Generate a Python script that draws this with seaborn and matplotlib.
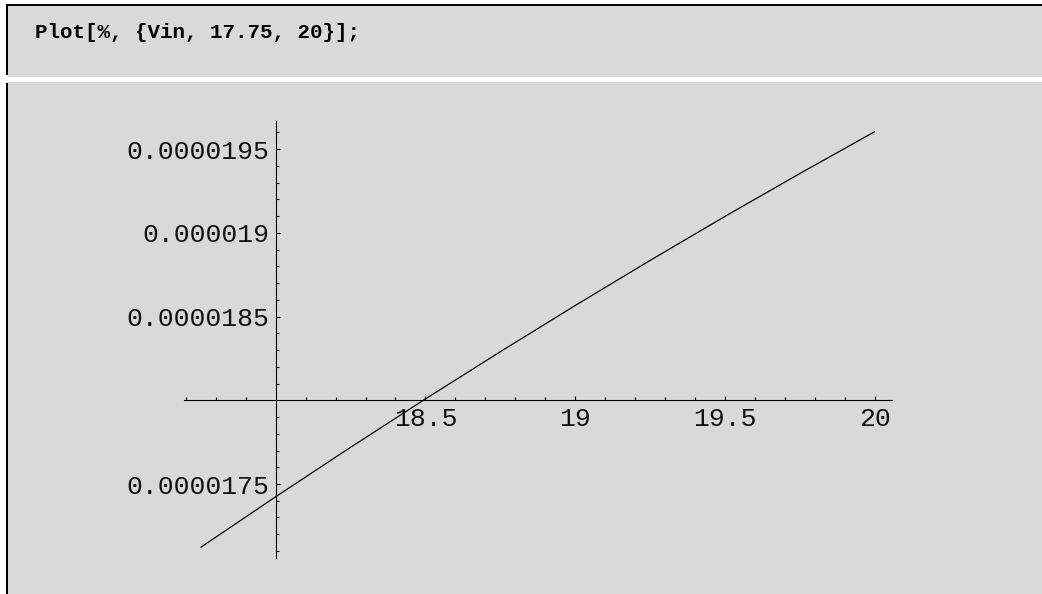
import matplotlib
matplotlib.use("Agg")
import matplotlib.pyplot as plt
from matplotlib.patches import Rectangle
from matplotlib.ticker import FixedLocator, FixedFormatter
import pandas as pd
import seaborn as sns

# Input voltage samples and the computed response
vin = [17.75, 18.0, 18.25, 18.5, 18.75, 19.0, 19.25, 19.5, 19.75, 20.0]
response = [1.7122e-5, 1.7424e-5, 1.7719e-5, 1.8008e-5, 1.8290e-5,
            1.8566e-5, 1.8835e-5, 1.9098e-5, 1.9354e-5, 1.9604e-5]

# Tick marks and their labels
x_major = [18.5, 19.0, 19.5, 20.0]
x_major_labels = ["18.5", "19", "19.5", "20"]
x_minor = [17.7, 17.8, 17.9, 18.1, 18.2, 18.3, 18.4, 18.6, 18.7, 18.8, 18.9,
           19.1, 19.2, 19.3, 19.4, 19.6, 19.7, 19.8, 19.9]
y_major = [1.75e-5, 1.85e-5, 1.9e-5, 1.95e-5]
y_major_labels = ["0.0000175", "0.0000185", "0.000019", "0.0000195"]
y_minor = [1.71e-5, 1.72e-5, 1.73e-5, 1.74e-5, 1.76e-5, 1.77e-5, 1.78e-5,
           1.79e-5, 1.81e-5, 1.82e-5, 1.83e-5, 1.84e-5, 1.86e-5, 1.87e-5,
           1.88e-5, 1.89e-5, 1.91e-5, 1.92e-5, 1.93e-5, 1.94e-5, 1.96e-5]

command = "Plot[%, {Vin, 17.75, 20}];"

# Axes origin and visible extent of the axis lines
origin = (18.0, 1.8e-5)
x_axis_span = (17.694, 20.057)
y_axis_span = (1.706e-5, 1.9669e-5)

sns.set_style("white")
plt.rcParams["font.family"] = ["Liberation Mono", "DejaVu Sans Mono"]

W, H = 1042, 594
CELL_GRAY = "#d9d9d9"
fig = plt.figure(figsize=(W / 100, H / 100), dpi=100, facecolor="white")


def box(x0, y0, x1, y1, color):
    """Rectangle given in pixel coordinates (y downward)."""
    fig.add_artist(Rectangle((x0 / W, 1 - y1 / H), (x1 - x0) / W, (y1 - y0) / H,
                             transform=fig.transFigure, facecolor=color,
                             edgecolor="none", zorder=0))


# Input cell
box(8.3, 6.3, W, 76.7, CELL_GRAY)
box(5.7, 3.7, W, 6.3, "black")
box(5.7, 3.7, 8.3, 75.0, "black")
# Output cell
box(8.3, 81.5, W, H, CELL_GRAY)
box(5.7, 82.7, 8.3, H, "black")

fig.text(35 / W, 1 - 38.5 / H, command, fontsize=15, fontweight="bold",
         family=["Liberation Mono", "DejaVu Sans Mono"], color="black",
         va="baseline", ha="left")

# Plot area placed in pixel coordinates
AX_L, AX_R, AX_T, AX_B = 150, 950, 100, 580
ax = fig.add_axes([AX_L / W, 1 - AX_B / H, (AX_R - AX_L) / W, (AX_B - AX_T) / H])
ax.patch.set_visible(False)

df = pd.DataFrame({"Vin": vin, "value": response})
sns.lineplot(data=df, x="Vin", y="value", ax=ax, color="black",
             linewidth=0.9, estimator=None, sort=False)

px_per_x = 299.4
px_per_y = 83.7 / 0.5e-6
ox_px, oy_px = 275.7, 400.3
ax.set_xlim(origin[0] - (ox_px - AX_L) / px_per_x, origin[0] + (AX_R - ox_px) / px_per_x)
ax.set_ylim(origin[1] - (AX_B - oy_px) / px_per_y, origin[1] + (oy_px - AX_T) / px_per_y)

for side in ("top", "right"):
    ax.spines[side].set_visible(False)
ax.spines["left"].set_position(("data", origin[0]))
ax.spines["bottom"].set_position(("data", origin[1]))
ax.spines["left"].set_bounds(*y_axis_span)
ax.spines["bottom"].set_bounds(*x_axis_span)
for side in ("left", "bottom"):
    ax.spines[side].set_linewidth(0.8)
    ax.spines[side].set_color("black")

ax.xaxis.set_major_locator(FixedLocator(x_major))
ax.xaxis.set_major_formatter(FixedFormatter(x_major_labels))
ax.xaxis.set_minor_locator(FixedLocator(x_minor))
ax.yaxis.set_major_locator(FixedLocator(y_major))
ax.yaxis.set_major_formatter(FixedFormatter(y_major_labels))
ax.yaxis.set_minor_locator(FixedLocator(y_minor))

ax.tick_params(which="both", direction="in", color="black", width=0.8,
               bottom=True, left=True, top=False, right=False,
               labelsize=19, labelcolor="#111111")
ax.tick_params(which="major", length=3.2)
ax.tick_params(which="minor", length=1.9)
ax.tick_params(axis="x", which="major", pad=4.5)
ax.tick_params(axis="y", which="major", pad=4.5)
ax.set_xlabel("")
ax.set_ylabel("")

fig.savefig("out.png", dpi=100, facecolor="white")
